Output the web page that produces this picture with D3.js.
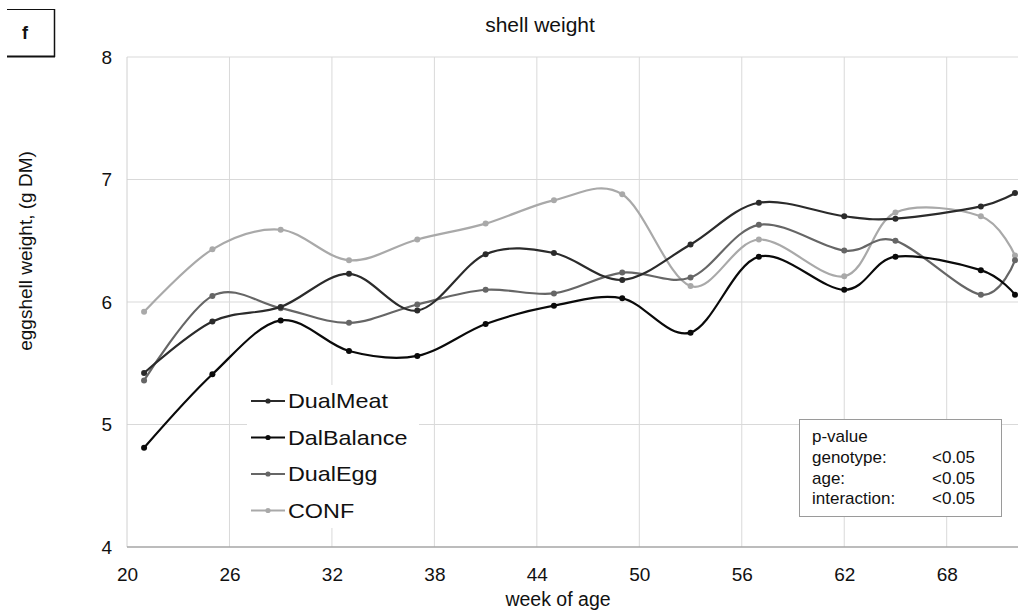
<!DOCTYPE html>
<html>
<head>
<meta charset="utf-8">
<script src="https://cdn.jsdelivr.net/npm/d3@7"></script>
<style>
  html, body { margin: 0; padding: 0; background: #fff; }
  svg { display: block; font-family: "Liberation Sans", Arial, sans-serif; }
</style>
</head>
<body>
<svg id="chart" width="1018" height="610"></svg>
<script>
const weeks = [21, 25, 29, 33, 37, 41, 45, 49, 53, 57, 62, 65, 70, 72];
const dualMeat   = [5.42, 5.84, 5.96, 6.23, 5.93, 6.39, 6.40, 6.18, 6.47, 6.81, 6.70, 6.68, 6.78, 6.89];
const dalBalance = [4.81, 5.41, 5.85, 5.60, 5.56, 5.82, 5.97, 6.03, 5.75, 6.37, 6.10, 6.37, 6.26, 6.06];
const dualEgg    = [5.36, 6.05, 5.95, 5.83, 5.98, 6.10, 6.07, 6.24, 6.20, 6.63, 6.42, 6.50, 6.06, 6.34];
const conf       = [5.92, 6.43, 6.59, 6.34, 6.51, 6.64, 6.83, 6.88, 6.13, 6.51, 6.21, 6.73, 6.70, 6.38];
const seriesNames = ["DualMeat", "DalBalance", "DualEgg", "CONF"];
const xTicks = [20, 26, 32, 38, 44, 50, 56, 62, 68];
const yTicks = [4, 5, 6, 7, 8];
const pLabels = ["genotype:", "age:", "interaction:"];
const pValues = ["<0.05", "<0.05", "<0.05"];

const colors = ["#2b2b2b", "#0a0a0a", "#666666", "#a9a9a9"];
const seriesData = [dualMeat, dalBalance, dualEgg, conf];
const FONT = "Liberation Sans, Arial, sans-serif";

const svg = d3.select("#chart");
const pLeft = 127, pRight = 1015, pTop = 57, pBottom = 547;

const x = d3.scaleLinear().domain([20, 72]).range([pLeft, pRight]);
const y = d3.scaleLinear().domain([4, 8]).range([pBottom, pTop]);

// gridlines
const grid = svg.append("g");
grid.selectAll("line.v").data(xTicks.filter(d => d > 20)).enter().append("line")
  .attr("x1", d => x(d)).attr("x2", d => x(d)).attr("y1", pTop).attr("y2", pBottom)
  .attr("stroke", "#d9d9d9").attr("stroke-width", 1);
grid.selectAll("line.h").data(yTicks.filter(d => d > 4)).enter().append("line")
  .attr("x1", pLeft).attr("x2", 1018).attr("y1", d => y(d)).attr("y2", d => y(d))
  .attr("stroke", "#d9d9d9").attr("stroke-width", 1);
svg.append("line").attr("x1", pLeft).attr("x2", pLeft).attr("y1", pTop).attr("y2", pBottom)
  .attr("stroke", "#d0d0d0").attr("stroke-width", 1);

// x axis
const xAxis = d3.axisBottom(x).tickValues(xTicks).tickSize(0).tickPadding(21);
const gx = svg.append("g").attr("transform", `translate(0,${pBottom})`).call(xAxis);
gx.select(".domain").attr("stroke", "#a6a6a6").attr("stroke-width", 1.3).attr("d", `M${pLeft},0H1018`);
gx.selectAll("text").attr("font-size", 19).attr("fill", "#111").attr("font-family", FONT);

// y axis
const yAxis = d3.axisLeft(y).tickValues(yTicks).tickFormat(d3.format("d")).tickSize(0).tickPadding(15);
const gy = svg.append("g").attr("transform", `translate(${pLeft},0)`).call(yAxis);
gy.select(".domain").remove();
gy.selectAll("text").attr("font-size", 19).attr("fill", "#111").attr("font-family", FONT);

// lines
const line = d3.line().x((d, i) => x(weeks[i])).y(d => y(d)).curve(d3.curveCatmullRom.alpha(0));
const plotG = svg.append("g");
[3, 2, 1, 0].forEach(k => {
  const g = plotG.append("g");
  g.append("path").datum(seriesData[k]).attr("d", line)
    .attr("fill", "none").attr("stroke", colors[k]).attr("stroke-width", 2.2);
  g.selectAll("circle").data(seriesData[k]).enter().append("circle")
    .attr("cx", (d, i) => x(weeks[i])).attr("cy", d => y(d)).attr("r", 3)
    .attr("fill", colors[k]);
});

// legend
const leg = svg.append("g");
leg.append("rect").attr("x", 247).attr("y", 385).attr("width", 172).attr("height", 143).attr("fill", "#fff");
const legY0 = 401, legDy = 36.5;
seriesNames.forEach((name, k) => {
  const yy = legY0 + k * legDy;
  leg.append("line").attr("x1", 251).attr("x2", 285).attr("y1", yy).attr("y2", yy)
    .attr("stroke", colors[k]).attr("stroke-width", 2.2);
  leg.append("circle").attr("cx", 268).attr("cy", yy).attr("r", 2.6).attr("fill", colors[k]);
  leg.append("text").attr("transform", `translate(288,${yy + 7}) scale(1.14,1)`)
    .attr("font-size", 20.5).attr("fill", "#111").text(name);
});

// p-value box
const pb = svg.append("g");
pb.append("rect").attr("x", 799.5).attr("y", 419.5).attr("width", 202).attr("height", 97)
  .attr("fill", "#fff").attr("stroke", "#9a9a9a").attr("stroke-width", 1);
pb.append("text").attr("x", 812).attr("y", 442).attr("font-size", 17).attr("fill", "#111").text("p-value");
pLabels.forEach((lab, i) => {
  const yy = 463 + i * 20.5;
  pb.append("text").attr("x", 812).attr("y", yy).attr("font-size", 17).attr("fill", "#111").text(lab);
  pb.append("text").attr("x", 932).attr("y", yy).attr("font-size", 17).attr("fill", "#111").text(pValues[i]);
});

// title
svg.append("text").attr("x", 540).attr("y", 32).attr("text-anchor", "middle")
  .attr("font-size", 21).attr("fill", "#111").text("shell weight");

// axis titles
svg.append("text").attr("x", 558).attr("y", 606).attr("text-anchor", "middle")
  .attr("font-size", 19.5).attr("fill", "#111").text("week of age");
svg.append("text").attr("transform", "translate(32,251) rotate(-90)").attr("text-anchor", "middle")
  .attr("font-size", 19).attr("fill", "#111").text("eggshell weight, (g DM)");

// panel label box
const fb = svg.append("g");
fb.append("line").attr("x1", 7).attr("x2", 54.5).attr("y1", 9.5).attr("y2", 9.5).attr("stroke", "#111").attr("stroke-width", 1.2);
fb.append("line").attr("x1", 54.5).attr("x2", 54.5).attr("y1", 9).attr("y2", 57).attr("stroke", "#111").attr("stroke-width", 1.5);
fb.append("line").attr("x1", 7).attr("x2", 55).attr("y1", 56.5).attr("y2", 56.5).attr("stroke", "#111").attr("stroke-width", 2);
fb.append("text").attr("x", 22).attr("y", 39).attr("font-size", 18).attr("font-weight", "bold").attr("fill", "#111").text("f");
</script>
</body>
</html>
